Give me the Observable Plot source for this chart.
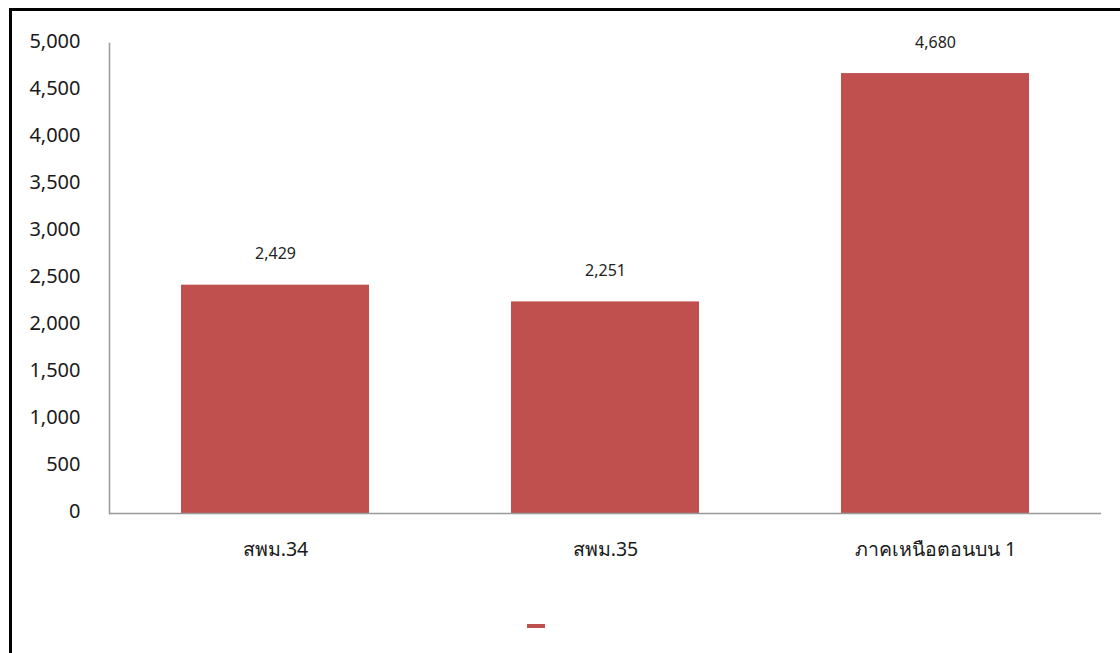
<!DOCTYPE html>
<html>
<head>
<meta charset="utf-8">
<script src="https://cdn.jsdelivr.net/npm/d3@7"></script>
<script src="https://cdn.jsdelivr.net/npm/@observablehq/plot@0.6"></script>
<style>
  html, body { margin: 0; padding: 0; background: #fff; }
  body { width: 1120px; height: 653px; position: relative; overflow: hidden; font-family: Tahoma, "Noto Sans", "DejaVu Sans", sans-serif; }
  #frame { position: absolute; left: 9px; top: 8px; width: 1200px; height: 700px; border-left: 3px solid #000; border-top: 3px solid #000; box-sizing: border-box; pointer-events: none; }
  #chart { position: absolute; left: 0; top: 0; }
  #legend { position: absolute; left: 527px; top: 624px; width: 18px; height: 4px; background: #C0504D; }
</style>
</head>
<body>
<div id="chart"></div>
<div id="frame"></div>
<div id="legend"></div>
<script>
const categories = ["สพม.34", "สพม.35", "ภาคเหนือตอนบน 1"];
const values = [2429, 2251, 4680];
const yTicks = [0, 500, 1000, 1500, 2000, 2500, 3000, 3500, 4000, 4500, 5000];

const data = categories.map((c, i) => ({category: c, value: values[i]}));
const fmt = d3.format(",");

const chart = Plot.plot({
  width: 1120,
  height: 653,
  marginLeft: 109,
  marginRight: 19,
  marginTop: 43,
  marginBottom: 140,
  style: {fontFamily: "Tahoma, 'Noto Sans', 'DejaVu Sans', sans-serif", background: "transparent"},
  x: {domain: categories, paddingInner: 0.43, paddingOuter: 0.215, label: null},
  y: {domain: [0, 5000], label: null},
  marks: [
    Plot.barY(data, {x: "category", y: "value", fill: "#C0504D"}),
    Plot.axisY({ticks: yTicks, tickFormat: fmt, tickSize: 0, tickPadding: 29, fontSize: 20, dy: -2, fill: "#1a1a1a", label: null}),
    Plot.axisX({tickSize: 0, tickPadding: 29, fontSize: 19.5, fill: "#1a1a1a", label: null}),
    Plot.frame({anchor: "left", stroke: "#999", strokeWidth: 1.5}),
    Plot.ruleY([0], {stroke: "#999", strokeWidth: 1.5}),
    Plot.text(data, {x: "category", y: "value", text: d => fmt(d.value), dy: -31, fontSize: 16, fill: "#222"})
  ]
});
document.getElementById("chart").appendChild(chart);
</script>
</body>
</html>
